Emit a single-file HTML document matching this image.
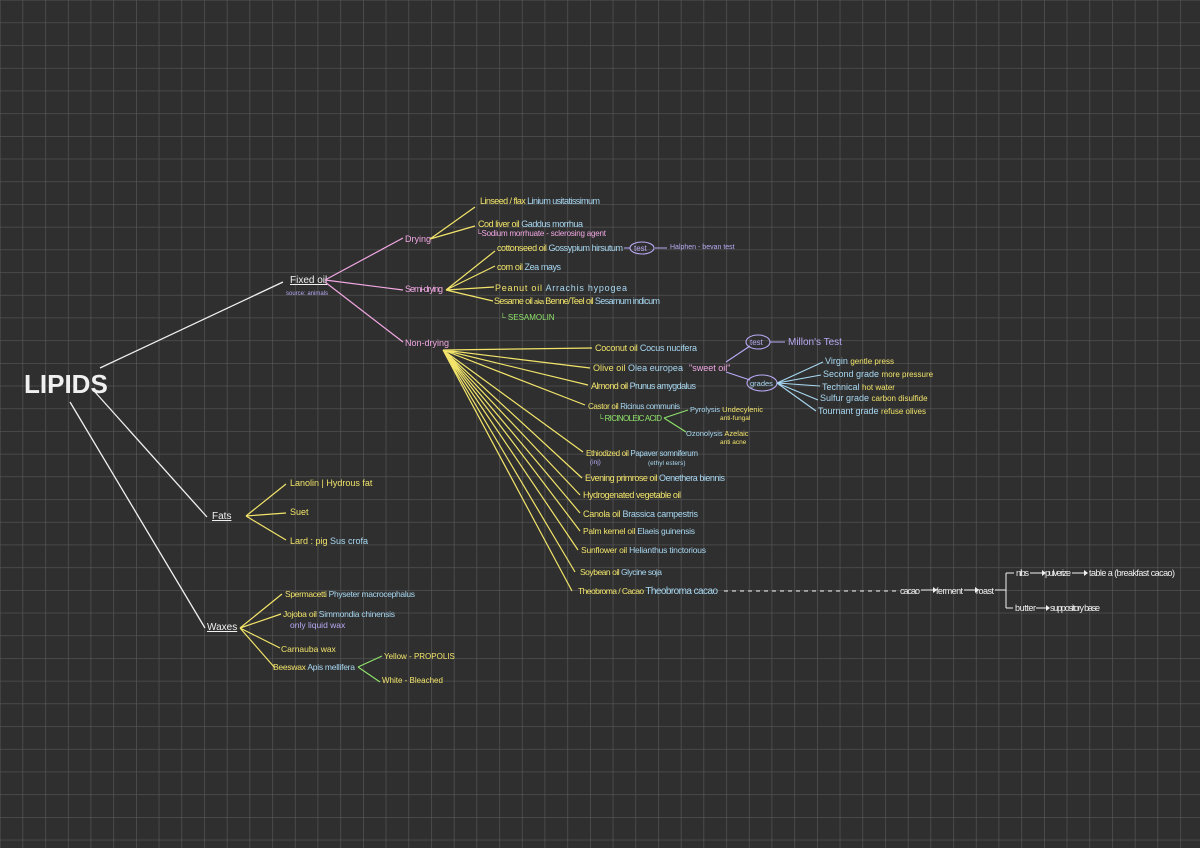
<!DOCTYPE html>
<html><head><meta charset="utf-8"><style>
html,body{margin:0;padding:0;background:#2f2f2f;}
svg{display:block}
text{font-family:"Liberation Sans",sans-serif;font-size:9px}
.y{fill:#f2e46a}.b{fill:#a8d8f2}.p{fill:#f2a8e4}.v{fill:#b9aaf5}.g{fill:#8fe26a}.w{fill:#f0f0f0}
</style></head><body>
<svg width="1200" height="848" xmlns="http://www.w3.org/2000/svg">
<defs><pattern id="gr" x="22.5" y="22.5" width="22.7" height="22.7" patternUnits="userSpaceOnUse">
<path d="M0 0V22.7M0 0H22.7" stroke="#575757" stroke-width="1.3" fill="none"/></pattern></defs>
<rect width="1200" height="848" fill="#2f2f2f"/>
<rect width="1200" height="848" fill="url(#gr)"/>

<text x="24" y="393" class="w" style="font-size:26px;font-weight:bold">LIPIDS</text>
<g stroke="#f0f0f0" stroke-width="1.3" fill="none">
<path d="M100 368L283 282M95 392L207 517M70 402L205 628"/>
</g>
<text x="290" y="283" class="w" style="font-size:10px;text-decoration:underline">Fixed oil</text>
<text x="286" y="295" class="v" style="font-size:6px">source: animals</text>
<text x="212" y="519" class="w" style="font-size:10px;text-decoration:underline">Fats</text>
<text x="207" y="630" class="w" style="font-size:10px;text-decoration:underline">Waxes</text>

<g stroke="#f2a8e4" stroke-width="1.2" fill="none">
<path d="M325 280L403 238M325 280L403 290M325 282L403 342"/>
</g>
<text x="405" y="242" class="p">Drying</text>
<text x="405" y="292" class="p" textLength="38">Semi-drying</text>
<text x="405" y="346" class="p">Non-drying</text>

<g stroke="#f2e46a" stroke-width="1.2" fill="none">
<path d="M430 239L475 207M430 239L475 226M446 290L495 251M446 290L495 266M446 290L494 287M446 290L493 301"/>
<path d="M443 350L592 348M443 350L590 368M443 350L588 385M443 350L585 405M443 350L583 452M443 350L582 478M443 350L580 495M443 350L580 513M443 350L580 531M443 350L578 550M443 350L575 572M443 350L572 591"/>
<path d="M246 516L286 484M246 516L286 513M246 516L286 540M240 628L282 594M240 628L281 614M240 628L280 648M240 628L275 668"/>
</g>
<text x="480" y="204" class="y" textLength="120">Linseed / flax <tspan class="b">Linium usitatissimum</tspan></text>
<text x="478" y="227" class="y" textLength="105">Cod liver oil <tspan class="b">Gaddus morrhua</tspan></text>
<text x="476" y="236" class="p" style="font-size:8px" textLength="130">└Sodium morrhuate - sclerosing agent</text>
<text x="497" y="251" class="y" textLength="126">cottonseed oil <tspan class="b">Gossypium hirsutum</tspan></text>
<g stroke="#b9aaf5" fill="none" stroke-width="1.1"><path d="M624 248H630M655 248H667"/><ellipse cx="642" cy="248" rx="12" ry="6"/></g>
<text x="634" y="251" class="v" style="font-size:8px">test</text>
<text x="670" y="249" class="v" style="font-size:7px">Halphen - bevan test</text>
<text x="497" y="270" class="y" textLength="64">corn oil <tspan class="b">Zea mays</tspan></text>
<text x="495" y="291" class="y" textLength="132">Peanut oil <tspan class="b">Arrachis hypogea</tspan></text>
<text x="494" y="304" class="y" textLength="166">Sesame oil <tspan style="font-size:7px">aka</tspan> Benne/Teel oil <tspan class="b">Sesamum indicum</tspan></text>
<text x="500" y="320" class="g" style="font-size:8px">└ SESAMOLIN</text>

<text x="595" y="351" class="y" textLength="102">Coconut oil <tspan class="b">Cocus nucifera</tspan></text>
<text x="593" y="371" class="y" textLength="90">Olive oil <tspan class="b">Olea europea</tspan></text>
<text x="689" y="371" class="p">"sweet oil"</text>
<text x="591" y="389" class="y" textLength="105">Almond oil <tspan class="b">Prunus amygdalus</tspan></text>
<text x="588" y="409" class="y" style="font-size:8px" textLength="92">Castor oil <tspan class="b">Ricinus communis</tspan></text>
<text x="598" y="421" class="g" style="font-size:8px" textLength="64">└ RICINOLEIC ACID</text>
<g stroke="#8fe26a" fill="none" stroke-width="1.1"><path d="M664 418L688 410M664 418L686 432"/></g>
<text x="690" y="412" class="b" style="font-size:7.5px">Pyrolysis <tspan class="y">Undecylenic</tspan></text>
<text x="720" y="420" class="y" style="font-size:6.5px">anti-fungal</text>
<text x="686" y="436" class="b" style="font-size:7.5px">Ozonolysis <tspan class="y">Azelaic</tspan></text>
<text x="720" y="444" class="y" style="font-size:6.5px">anti acne</text>
<text x="586" y="456" class="y" style="font-size:8px" textLength="112">Ethiodized oil <tspan class="b">Papaver somniferum</tspan></text>
<text x="590" y="464" class="v" style="font-size:6.5px">(inj)</text>
<text x="648" y="465" class="b" style="font-size:6.5px">(ethyl esters)</text>
<text x="585" y="481" class="y" textLength="140">Evening primrose oil <tspan class="b">Oenethera biennis</tspan></text>
<text x="583" y="498" class="y" textLength="98">Hydrogenated vegetable oil</text>
<text x="583" y="517" class="y" textLength="115">Canola oil <tspan class="b">Brassica campestris</tspan></text>
<text x="583" y="534" class="y" style="font-size:8.5px" textLength="112">Palm kernel oil <tspan class="b">Elaeis guinensis</tspan></text>
<text x="581" y="553" class="y" style="font-size:8.5px" textLength="125">Sunflower oil <tspan class="b">Helianthus tinctorious</tspan></text>
<text x="580" y="575" class="y" style="font-size:8.5px" textLength="82">Soybean oil <tspan class="b">Glycine soja</tspan></text>
<text x="578" y="594" class="y" style="font-size:8.5px" textLength="140">Theobroma / Cacao <tspan class="b" style="font-size:10px">Theobroma cacao</tspan></text>

<g stroke="#b9aaf5" fill="none" stroke-width="1.1">
<path d="M726 362L750 346M726 372L750 380M770 342H785"/>
<ellipse cx="758" cy="342" rx="12" ry="7"/><ellipse cx="762" cy="383" rx="15" ry="8"/>
</g>
<text x="750" y="345" class="v" style="font-size:8px">test</text>
<text x="750" y="386" class="b" style="font-size:7.5px">grades</text>
<text x="788" y="345" class="v" style="font-size:10px">Millon's Test</text>
<g stroke="#a8d8f2" fill="none" stroke-width="1.1">
<path d="M777 383L823 362M777 383L821 375M777 383L820 386M777 383L818 400M777 383L816 411"/>
</g>
<text x="825" y="364" class="b">Virgin <tspan class="y" style="font-size:8px">gentle press</tspan></text>
<text x="823" y="377" class="b">Second grade <tspan class="y" style="font-size:8px">more pressure</tspan></text>
<text x="822" y="390" class="b">Technical <tspan class="y" style="font-size:8px">hot water</tspan></text>
<text x="820" y="401" class="b">Sulfur grade <tspan class="y" style="font-size:8px">carbon disulfide</tspan></text>
<text x="818" y="414" class="b">Tournant grade <tspan class="y" style="font-size:8px">refuse olives</tspan></text>

<path d="M724 591H896" stroke="#f0f0f0" stroke-dasharray="4 4" stroke-width="1"/>
<g fill="#f0f0f0" style="font-size:7px">
<text x="900" y="594" textLength="20">cacao</text><text x="936" y="594" textLength="27">ferment</text><text x="976" y="594" textLength="18">roast</text>
<text x="1016" y="576" textLength="13">nibs</text><text x="1045" y="576" textLength="26">pulverize</text><text x="1089" y="576" textLength="86">table a (breakfast cacao)</text>
<text x="1015" y="611" textLength="21">butter</text><text x="1050" y="611" textLength="50">suppository base</text>
</g>
<g stroke="#f0f0f0" fill="none" stroke-width="1">
<path d="M921 590H933M964 590H975M995 590H1006M1006 573V608M1006 573H1014M1006 608H1013M1030 573H1042M1072 573H1084M1036 608H1046"/>
</g>
<g fill="#f0f0f0"><path d="M933 587L937 590L933 593ZM975 587L979 590L975 593ZM1042 570L1046 573L1042 576ZM1084 570L1088 573L1084 576ZM1046 605L1050 608L1046 611Z"/></g>

<text x="290" y="486" class="y">Lanolin | Hydrous fat</text>
<text x="290" y="515" class="y">Suet</text>
<text x="290" y="544" class="y">Lard : pig <tspan class="b">Sus crofa</tspan></text>
<text x="285" y="597" class="y" style="font-size:8.5px" textLength="130">Spermacetti <tspan class="b">Physeter macrocephalus</tspan></text>
<text x="283" y="617" class="y" style="font-size:8.5px" textLength="112">Jojoba oil <tspan class="b">Simmondia chinensis</tspan></text>
<text x="290" y="628" class="v" style="font-size:8.5px">only liquid wax</text>
<text x="281" y="652" class="y" style="font-size:8.5px">Carnauba wax</text>
<text x="273" y="670" class="y" style="font-size:8.5px" textLength="82">Beeswax <tspan class="b">Apis mellifera</tspan></text>
<g stroke="#8fe26a" fill="none" stroke-width="1.1"><path d="M358 667L382 656M358 667L380 682"/></g>
<text x="384" y="659" class="y" style="font-size:8px">Yellow - PROPOLIS</text>
<text x="382" y="683" class="y" style="font-size:8px">White - Bleached</text>
</svg>
</body></html>
